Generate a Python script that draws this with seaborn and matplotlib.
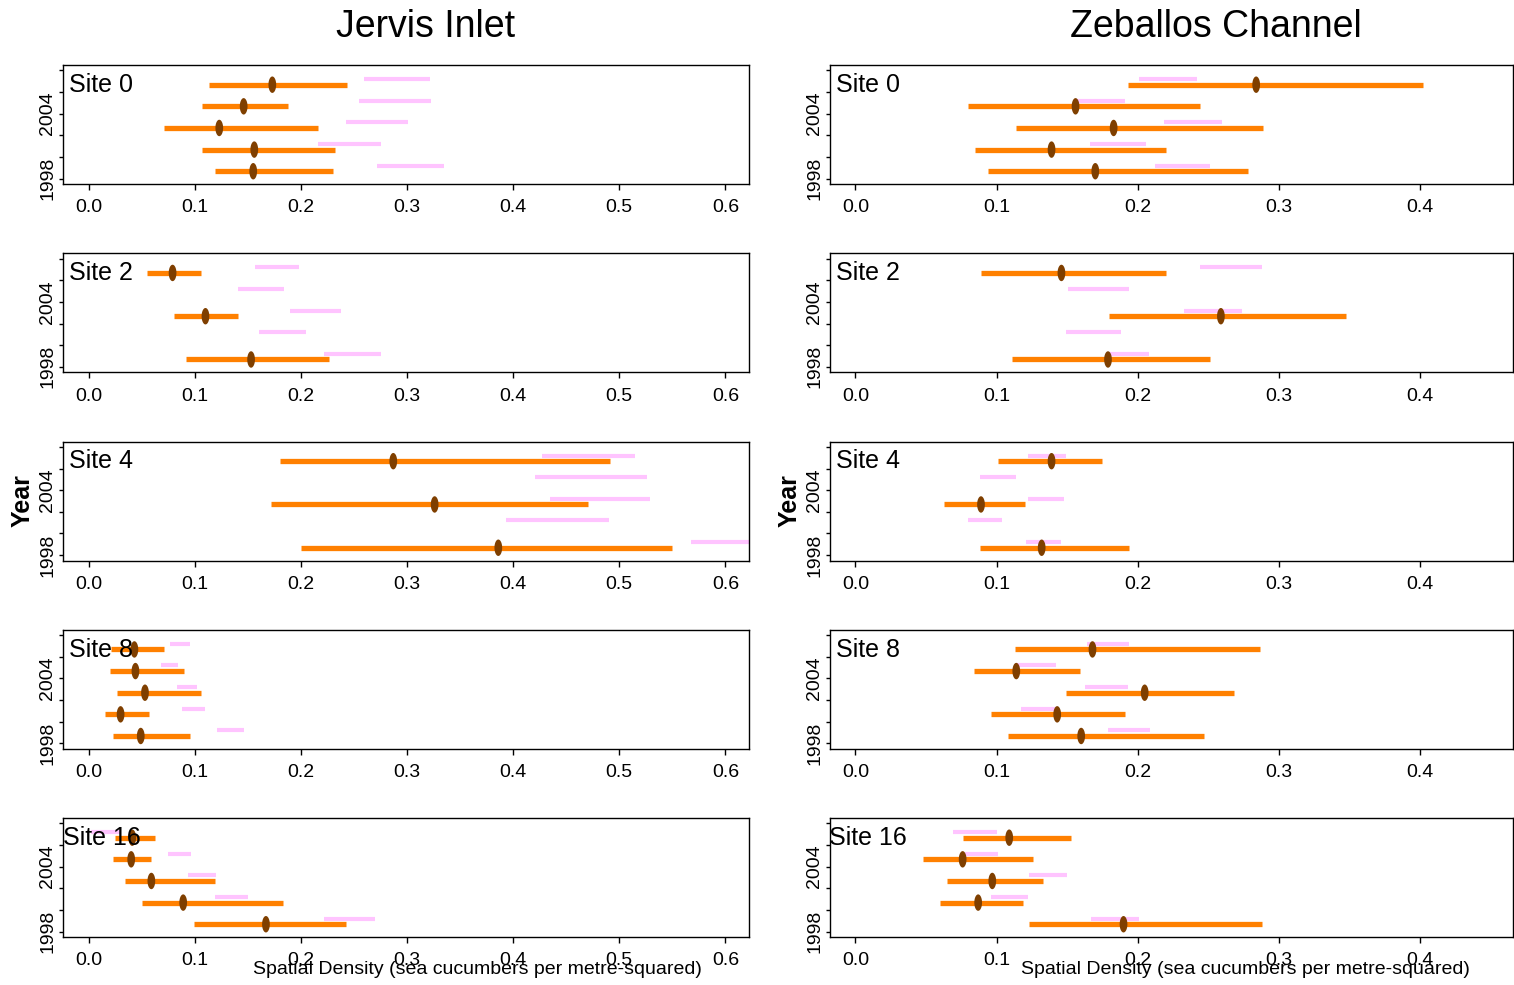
import numpy as np
import pandas as pd
import matplotlib
matplotlib.use("Agg")
import matplotlib.pyplot as plt
import seaborn as sns
from matplotlib.path import Path

nan = np.nan
years = [1998, 2000, 2002, 2004, 2006]
sites = ["Site 0", "Site 2", "Site 4", "Site 8", "Site 16"]
regions = ["Jervis Inlet", "Zeballos Channel"]

# values per site (rows) and year (columns 1998..2006)
jervis_lo = [[0.119, 0.107, 0.071, 0.107, 0.113],
             [0.092, nan, 0.080, nan, 0.055],
             [0.200, nan, 0.172, nan, 0.180],
             [0.023, 0.015, 0.027, 0.020, 0.021],
             [0.099, 0.050, 0.034, 0.023, 0.025]]
jervis_hi = [[0.230, 0.232, 0.216, 0.188, 0.243],
             [0.226, nan, 0.141, nan, 0.106],
             [0.550, nan, 0.471, nan, 0.491],
             [0.095, 0.057, 0.106, 0.090, 0.071],
             [0.242, 0.183, 0.119, 0.059, 0.062]]
jervis_est = [[0.155, 0.156, 0.123, 0.146, 0.173],
              [0.153, nan, 0.110, nan, 0.079],
              [0.386, nan, 0.326, nan, 0.287],
              [0.049, 0.030, 0.053, 0.044, 0.043],
              [0.167, 0.089, 0.059, 0.040, 0.041]]
jervis_pink_lo = [[0.272, 0.216, 0.242, 0.255, 0.259],
                  [0.222, 0.160, 0.190, 0.141, 0.157],
                  [0.568, 0.393, 0.435, 0.421, 0.427],
                  [0.121, 0.088, 0.083, 0.068, 0.077],
                  [0.222, 0.119, 0.094, 0.075, 0.002]]
jervis_pink_hi = [[0.335, 0.275, 0.301, 0.323, 0.322],
                  [0.275, 0.205, 0.238, 0.184, 0.198],
                  [0.665, 0.490, 0.529, 0.526, 0.515],
                  [0.146, 0.110, 0.102, 0.084, 0.095],
                  [0.270, 0.150, 0.120, 0.096, 0.029]]

zeballos_lo = [[0.094, 0.085, 0.114, 0.080, 0.193],
               [0.111, nan, 0.180, nan, 0.089],
               [0.088, nan, 0.063, nan, 0.101],
               [0.108, 0.096, 0.149, 0.084, 0.113],
               [0.123, 0.060, 0.065, 0.048, 0.076]]
zeballos_hi = [[0.278, 0.220, 0.289, 0.244, 0.402],
               [0.251, nan, 0.348, nan, 0.220],
               [0.194, nan, 0.120, nan, 0.175],
               [0.247, 0.191, 0.268, 0.159, 0.287],
               [0.288, 0.119, 0.133, 0.126, 0.153]]
zeballos_est = [[0.170, 0.139, 0.183, 0.156, 0.284],
                [0.179, nan, 0.259, nan, 0.146],
                [0.132, nan, 0.089, nan, 0.139],
                [0.160, 0.143, 0.205, 0.114, 0.168],
                [0.190, 0.087, 0.097, 0.076, 0.109]]
zeballos_pink_lo = [[0.212, 0.166, 0.219, 0.156, 0.201],
                    [0.180, 0.149, 0.233, 0.151, 0.244],
                    [0.121, 0.080, 0.122, 0.088, 0.122],
                    [0.179, 0.117, 0.163, 0.114, 0.164],
                    [0.167, 0.096, 0.123, 0.078, 0.069]]
zeballos_pink_hi = [[0.251, 0.206, 0.260, 0.191, 0.242],
                    [0.208, 0.188, 0.274, 0.194, 0.288],
                    [0.146, 0.104, 0.148, 0.114, 0.149],
                    [0.209, 0.142, 0.193, 0.142, 0.194],
                    [0.201, 0.122, 0.150, 0.101, 0.100]]

xticks_by_region = {"Jervis Inlet": [0.0, 0.1, 0.2, 0.3, 0.4, 0.5, 0.6],
                    "Zeballos Channel": [0.0, 0.1, 0.2, 0.3, 0.4]}
year_ticks = [1998, 2000, 2002, 2004, 2006, 2008]
year_labels = ["1998", "", "", "2004", "", ""]

# ---- build long table ----
rows = []
for region, lo, hi, est, plo, phi in [
        ("Jervis Inlet", jervis_lo, jervis_hi, jervis_est, jervis_pink_lo, jervis_pink_hi),
        ("Zeballos Channel", zeballos_lo, zeballos_hi, zeballos_est, zeballos_pink_lo, zeballos_pink_hi)]:
    for si, site in enumerate(sites):
        for yi, yr in enumerate(years):
            rows.append(dict(region=region, site=site, year=yr,
                             lo=lo[si][yi], hi=hi[si][yi], est=est[si][yi],
                             plo=plo[si][yi], phi=phi[si][yi]))
df = pd.DataFrame(rows)

# ---- style ----
sns.set_style("white")
plt.rcParams["font.family"] = ["Liberation Sans", "DejaVu Sans"]
plt.rcParams["text.color"] = "black"
plt.rcParams["axes.labelcolor"] = "black"
plt.rcParams["xtick.color"] = "black"
plt.rcParams["ytick.color"] = "black"

ORANGE = "#FF8000"
PINK = "#FFC4FF"
BROWN = "#7F3F00"
OFF_ORANGE = 0.68
OFF_PINK = 1.2

W, H = 1514, 985
fig = plt.figure(figsize=(W / 100, H / 100), dpi=100)

theta = np.linspace(0, 2 * np.pi, 80)
ellipse = Path(np.column_stack([0.47 * np.cos(theta), np.sin(theta)]), closed=True)

col_left = {"Jervis Inlet": 63.4, "Zeballos Channel": 830.0}
col_width = {"Jervis Inlet": 685.3, "Zeballos Channel": 683.0}
xlims = {"Jervis Inlet": (-0.0239, 0.622), "Zeballos Channel": (-0.018, 0.466)}
panel_h = 119.0

for region in regions:
    for i, site in enumerate(sites):
        top = 65.0 + 188.25 * i
        ax = fig.add_axes([col_left[region] / W, 1 - (top + panel_h) / H,
                           col_width[region] / W, panel_h / H])
        sub = df[(df.region == region) & (df.site == site)].copy()
        sub["y_orange"] = sub["year"] + OFF_ORANGE
        sub["y_pink"] = sub["year"] + OFF_PINK

        ax.hlines(sub["y_pink"], sub["plo"], sub["phi"], color=PINK, lw=3.0,
                  capstyle="butt", zorder=2)
        ax.hlines(sub["y_orange"], sub["lo"], sub["hi"], color=ORANGE, lw=3.8,
                  capstyle="butt", zorder=3)
        pts = sub.dropna(subset=["est"])
        sns.scatterplot(data=pts, x="est", y="y_orange", marker=ellipse, s=140,
                        color=BROWN, edgecolor="none", linewidth=0, ax=ax,
                        legend=False, zorder=4)

        ax.set_xlim(*xlims[region])
        ax.set_ylim(1997.5, 2008.5)
        xt = xticks_by_region[region]
        ax.set_xticks(xt)
        ax.set_xticklabels([f"{v:.1f}" for v in xt])
        ax.set_yticks(year_ticks)
        ax.set_yticklabels(year_labels, rotation=90, va="center")
        ax.set_xlabel("")
        ax.set_ylabel("")
        ax.tick_params(axis="x", bottom=True, direction="out", length=4, width=1,
                       labelsize=14, pad=7, colors="black")
        ax.tick_params(axis="y", left=True, direction="out", length=3, width=1,
                       labelsize=14, pad=2, colors="black")
        for sp in ax.spines.values():
            sp.set_visible(True)
            sp.set_color("black")
            sp.set_linewidth(1.0)
        ax.annotate(site, xy=(0, 1), xycoords="axes fraction",
                    xytext=(38, -20), textcoords="offset pixels",
                    ha="center", va="center", fontsize=18, color="black", zorder=6)

# titles and labels
fig.text(426 / W, 1 - 27 / H, "Jervis Inlet", ha="center", va="center",
         fontsize=27, color="black")
fig.text(1215.5 / W, 1 - 27 / H, "Zeballos Channel", ha="center", va="center",
         fontsize=27, color="black")
for xpix in (23, 790):
    fig.text(xpix / W, 1 - 501 / H, "Year", rotation=90, ha="center", va="center",
             fontsize=18, fontweight="bold", color="black")
for xpix in (477, 1245):
    fig.text(xpix / W, 1 - 970 / H, "Spatial Density (sea cucumbers per metre-squared)",
             ha="center", va="center", fontsize=14, color="black")

fig.savefig("out.png", dpi=100)
